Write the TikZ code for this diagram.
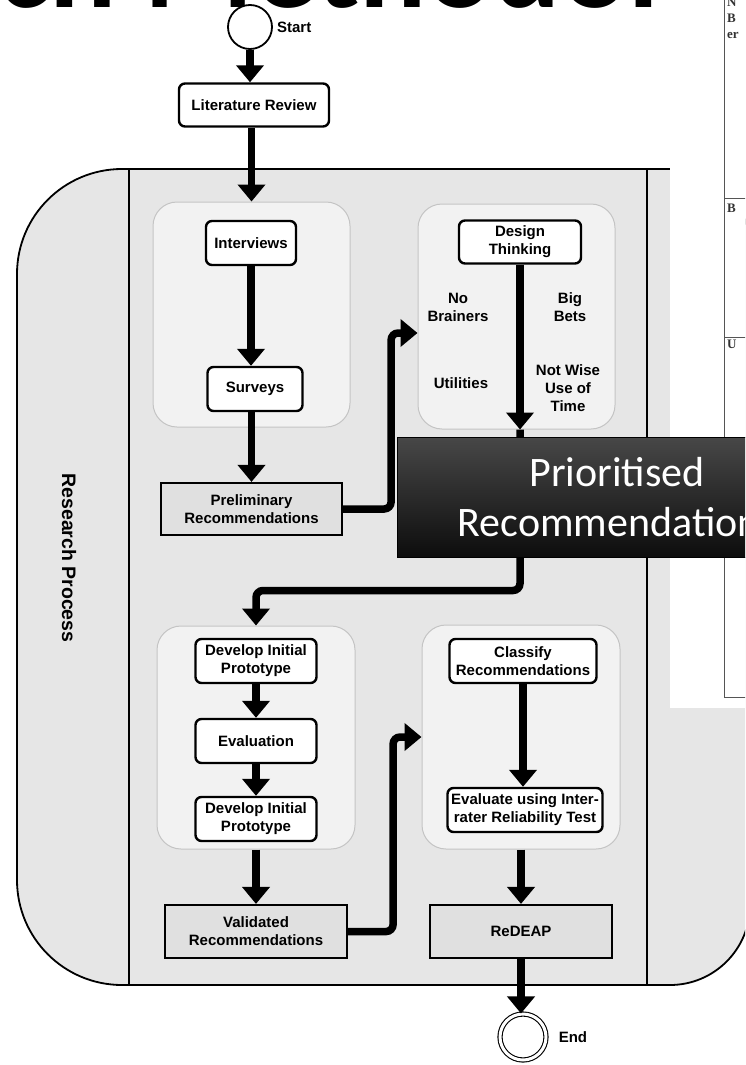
\documentclass[tikz,border=0pt]{standalone}
\usepackage{fontspec}
\setmainfont{Liberation Sans}
\newfontfamily\slidefont{Carlito}
\newfontfamily\tablefont{Liberation Serif}
\usetikzlibrary{arrows.meta}
\definecolor{lanefill}{HTML}{E6E6E6}
\definecolor{groupfill}{HTML}{F2F2F2}
\definecolor{groupline}{HTML}{C4C4C4}
\definecolor{notefill}{HTML}{E0E0E0}
\definecolor{tableline}{HTML}{555555}
\definecolor{tabletext}{HTML}{333333}

\begin{document}
\begin{tikzpicture}[x=1pt,y=-1pt,
  lbl/.style={font=\bfseries\fontsize{15}{18}\selectfont, align=center, inner sep=0pt},
  stepbox/.style={lbl, draw, line width=2.4pt, rounded corners=6pt, fill=white},
  notebox/.style={lbl, draw, line width=2.2pt, fill=notefill},
  group/.style={draw=groupline, line width=1pt, fill=groupfill, rounded corners=24pt, inner sep=0pt},
  flow/.style={line width=7.5pt, -{Triangle[length=17pt,width=27pt]}},
  flowturn/.style={flow, rounded corners=7pt},
  lane/.style={draw, line width=1.8pt},
  titletext/.style={inner sep=0pt, font=\slidefont\bfseries\fontsize{125}{125}\selectfont},
  tabletxt/.style={inner sep=0pt, anchor=base west, text=tabletext, font=\tablefont\bfseries\fontsize{13}{14}\selectfont},
]
\useasboundingbox (0,0) rectangle (745,1065);
\clip (0,0) rectangle (745,1065);

% slide heading, running off the top edge
\node[titletext, anchor=base east] (titleA) at (-3,8) {Resear};
\node[titletext, anchor=base west] (titleB) at (-3,8) {ch Methodol};

% swimlane
\path[lane, fill=lanefill] (400,169) [rounded corners=80pt] -- (750,169) -- (750,985) -- (400,985)
  [rounded corners=105pt] -- (17,985) -- (17,169) -- cycle;
\draw[lane] (129,169) -- (129,985);
\draw[lane] (647,169) -- (647,985);
\node[rotate=-90, inner sep=0pt, font=\bfseries\fontsize{19.5}{20}\selectfont] (lanelabel) at (69,558) {Research Process};

% sub-process groups
\node[group, minimum width=197pt, minimum height=225pt] (g1) at (251.5,314.5) {};
\node[group, minimum width=197pt, minimum height=225pt] (g2) at (516.5,316.5) {};
\node[group, minimum width=198pt, minimum height=223pt] (g3) at (256,737.5) {};
\node[group, minimum width=198pt, minimum height=224pt] (g4) at (521,737) {};

% start / end events
\node[circle, draw, line width=1.8pt, fill=white, minimum size=44pt, inner sep=0pt] (start) at (250,27) {};
\node[lbl, anchor=west] (startlbl) at ([xshift=4pt]start.east) {Start};
\node[circle, draw, double, double distance=3pt, line width=1.1pt, fill=white, minimum size=46pt, inner sep=0pt] (end) at (523,1037) {};
\node[lbl, anchor=west] (endlbl) at ([xshift=12pt]end.east) {End};

% steps
\node[stepbox, minimum width=150pt, minimum height=43pt] (lit) at (254,105) {Literature Review};
\node[stepbox, minimum width=90pt, minimum height=44pt] (int) at (251,243) {Interviews};
\node[stepbox, minimum width=95pt, minimum height=44pt] (sur) at (255,389) {Surveys};
\node[notebox, minimum width=181pt, minimum height=52pt] (prel) at (251.5,509) {Preliminary\\Recommendations};

\node[stepbox, minimum width=122pt, minimum height=43pt] (dt) at (520,242) {Design\\Thinking};
\node[lbl] (nb) at (458,307) {No\\Brainers};
\node[lbl] (bb) at (570,307) {Big\\Bets};
\node[lbl] (ut) at (461,383) {Utilities};
\node[lbl] (nw) at (568,388) {Not Wise\\Use of\\Time};

\node[stepbox, minimum width=121pt, minimum height=44pt] (dev1) at (256,661) {Develop Initial\\Prototype};
\node[stepbox, minimum width=121pt, minimum height=44pt] (eval) at (256,741) {Evaluation};
\node[stepbox, minimum width=121pt, minimum height=44pt] (dev2) at (256,819) {Develop Initial\\Prototype};
\node[notebox, minimum width=182pt, minimum height=53pt] (val) at (256,931.5) {Validated\\Recommendations};

\node[stepbox, minimum width=147pt, minimum height=44pt] (cls) at (523,661) {Classify\\Recommendations};
\node[stepbox, minimum width=155pt, minimum height=44pt] (irr) at (525,810) {Evaluate using Inter-\\rater Reliability Test};
\node[notebox, minimum width=182pt, minimum height=53pt] (red) at (521,931.5) {ReDEAP};

% connectors
\draw[flow] (start.south) -- (start.south |- lit.north);
\draw[flow] (lit.south -| g1.north) -- (g1.north);
\draw[flow] (int.south) -- (int.south |- sur.north);
\draw[flow] (sur.south -| prel.north) -- (prel.north);
\draw[flowturn] (prel.east) -- ++(48,0) |- ([yshift=-16.5pt]g2.west);
\draw[flow] (dt.south) -- (dt.south |- g2.south);
\draw[flowturn] (dt.south |- g2.south) -- ++(0,161) -| (g3.north);
\draw[flow] (dev1) -- (eval);
\draw[flow] (eval) -- (dev2);
\draw[flow] (dev2.south |- g3.south) -- (val.north);
\draw[flowturn] (val.east) -- ++(45,0) |- (g4.west);
\draw[flow] (cls.south) -- (cls.south |- irr.north);
\draw[flow] (red.north |- g4.south) -- (red.north);
\draw[flow] (red.south) -- (red.south |- end.north);

% table page lying over the right edge
\fill[white] (670,-5) rectangle (750,708);
\draw[tableline, line width=1pt] (724,-5) -- (724,697) -- (750,697);
\draw[tableline, line width=1pt] (724,198) -- (750,198);
\draw[tableline, line width=1pt] (724,337) -- (750,337);
\node[tabletxt] (tn) at (727,7) {N};
\node[tabletxt] (tb) at (727,23) {B};
\node[tabletxt] (te) at (727,38) {er};
\node[tabletxt] (tb2) at (727,212) {B};
\node[tabletxt] (tu) at (727,348) {U};

% caption banner
\node[draw=black, line width=1pt, top color=black!72, bottom color=black!95,
      minimum width=440pt, minimum height=120pt, inner sep=0pt, text=white, align=center,
      font=\slidefont\fontsize{42}{50}\selectfont] (prio) at (617,497) {Prioritised\\Recommendations};
\end{tikzpicture}
\end{document}
